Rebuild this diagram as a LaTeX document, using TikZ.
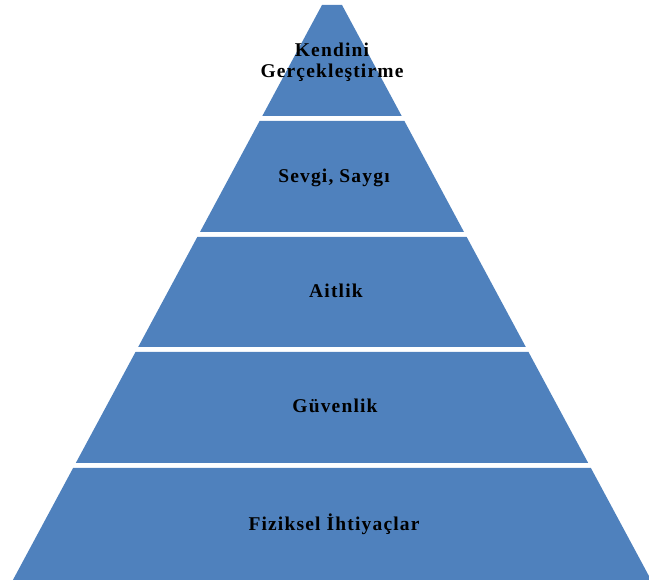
\documentclass[tikz,border=0pt]{standalone}
\usepackage{fontspec}
\setmainfont{Liberation Serif}[LetterSpace=6]
\definecolor{tierblue}{HTML}{4F81BD}
\tikzset{
  tier/.style={fill=tierblue},
  tierlabel/.style={font=\bfseries\fontsize{19.5}{21}\selectfont, align=center, inner sep=0pt}
}

\begin{document}
\begin{tikzpicture}[x=1pt,y=-1pt]
	\useasboundingbox (0,0) rectangle (649,580);
	\begin{scope}
	\clip (0,0) rectangle (649,580);
	% pyramid tiers, top to bottom
	\fill[tier] (322,5)--(342,5)--(401.7,116)--(262.3,116)--cycle;
	\fill[tier] (259.6,121)--(404.4,121)--(464,232)--(200,232)--cycle;
	\fill[tier] (197.3,237)--(466.7,237)--(525.8,347)--(138.2,347)--cycle;
	\fill[tier] (135.5,352)--(528.5,352)--(588.2,463)--(75.8,463)--cycle;
	\fill[tier] (73.1,468)--(590.9,468)--(651.1,580)--(12.9,580)--cycle;
	\end{scope}

	\node[tierlabel] (selfact) at (332,62) {Kendini\\Gerçekleştirme};
	\node[tierlabel, anchor=base] (esteem) at (334,183) {Sevgi, Saygı};
	\node[tierlabel, anchor=base] (belong) at (336,298) {Aitlik};
	\node[tierlabel, anchor=base] (safety) at (335,413) {Güvenlik};
	\node[tierlabel, anchor=base] (physio) at (334,530) {Fiziksel İhtiyaçlar};
\end{tikzpicture}
\end{document}
